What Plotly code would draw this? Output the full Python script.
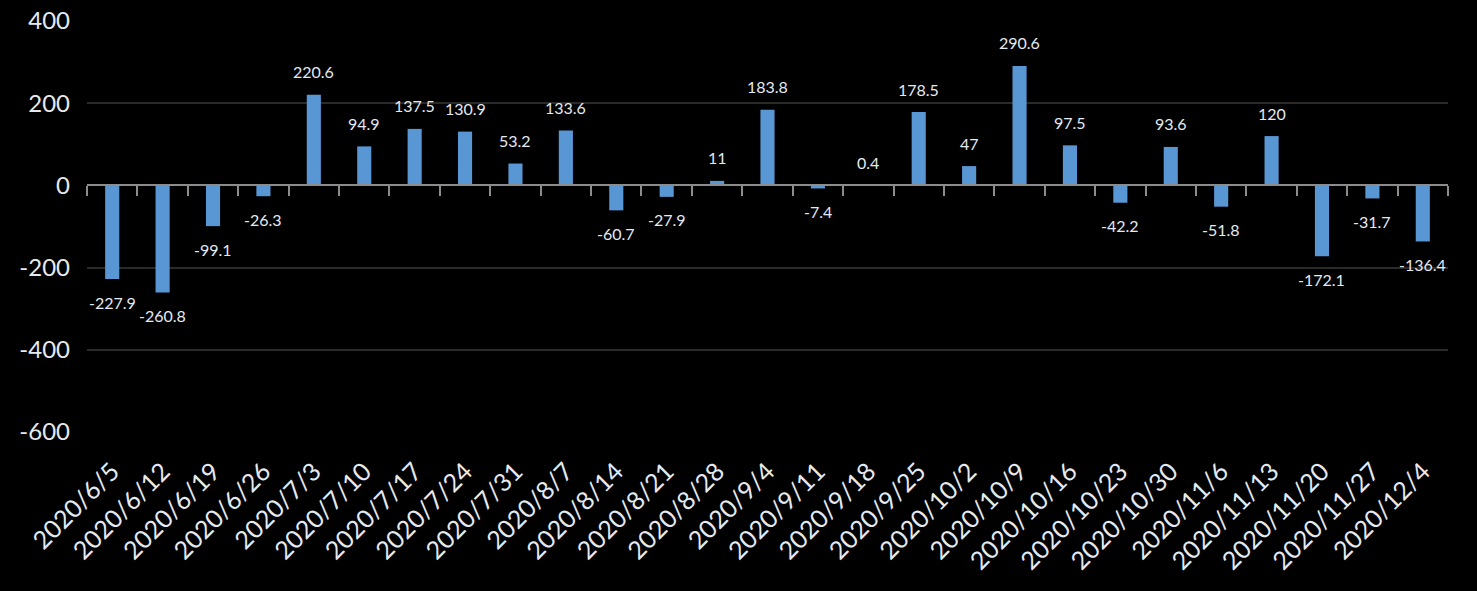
import plotly.graph_objects as go

dates = ["2020/6/5", "2020/6/12", "2020/6/19", "2020/6/26", "2020/7/3", "2020/7/10",
         "2020/7/17", "2020/7/24", "2020/7/31", "2020/8/7", "2020/8/14", "2020/8/21",
         "2020/8/28", "2020/9/4", "2020/9/11", "2020/9/18", "2020/9/25", "2020/10/2",
         "2020/10/9", "2020/10/16", "2020/10/23", "2020/10/30", "2020/11/6", "2020/11/13",
         "2020/11/20", "2020/11/27", "2020/12/4"]
values = [-227.9, -260.8, -99.1, -26.3, 220.6, 94.9, 137.5, 130.9, 53.2, 133.6, -60.7, -27.9,
          11, 183.8, -7.4, 0.4, 178.5, 47, 290.6, 97.5, -42.2, 93.6, -51.8, 120, -172.1,
          -31.7, -136.4]
labels = [f"{v:g}" for v in values]
y_ticks = [-600, -400, -200, 0, 200, 400]
y_tick_text = [str(v) for v in y_ticks]

FONT = "Lato"
TXT = "#e4eaf2"

fig = go.Figure()
fig.add_trace(go.Bar(
    x=dates, y=values,
    marker=dict(color="#5896d4", line=dict(width=0)),
    width=0.28, showlegend=False,
))
# invisible trace to carry the bottom label axis
fig.add_trace(go.Scatter(
    x=dates, y=[0] * len(dates), xaxis="x2", mode="markers",
    marker=dict(opacity=0), showlegend=False, hoverinfo="skip",
))

for d, v, t in zip(dates, values, labels):
    fig.add_annotation(
        x=d, y=v, text=t, showarrow=False, xref="x", yref="y",
        yanchor="middle", yshift=23 if v >= 0 else -23,
        font=dict(family=FONT, size=16, color=TXT),
    )

n = len(dates)
fig.update_layout(
    width=1477, height=591,
    paper_bgcolor="black", plot_bgcolor="black",
    margin=dict(l=87, r=29, t=21, b=159),
    font=dict(family=FONT, color=TXT),
    xaxis=dict(
        type="category", anchor="free", position=0.6, automargin=False,
        range=[-0.5, n - 0.5],
        showline=True, linecolor="#8c8c8c", linewidth=2,
        ticks="outside", tickson="boundaries", ticklen=10, tickwidth=2,
        tickcolor="#8c8c8c", showticklabels=False, showgrid=False,
    ),
    xaxis2=dict(
        type="category", overlaying="x", matches="x", side="bottom", anchor="y",
        automargin=False, showline=False, showgrid=False, tickangle=-45,
        ticks="outside", ticklen=14, tickcolor="rgba(0,0,0,0)",
        tickfont=dict(family=FONT, size=25, color=TXT),
    ),
    yaxis=dict(
        range=[-600, 400], tickvals=y_ticks, ticktext=y_tick_text, zeroline=False,
        automargin=False, showgrid=True, gridcolor="#2a2a2a", gridwidth=2,
        tickfont=dict(family=FONT, size=24, color=TXT),
        ticklabelstandoff=16,
    ),
)

fig.write_html(
    "out.html",
    config={"displayModeBar": False},
    post_script="document.body.style.margin='0';document.body.style.background='black';",
)
